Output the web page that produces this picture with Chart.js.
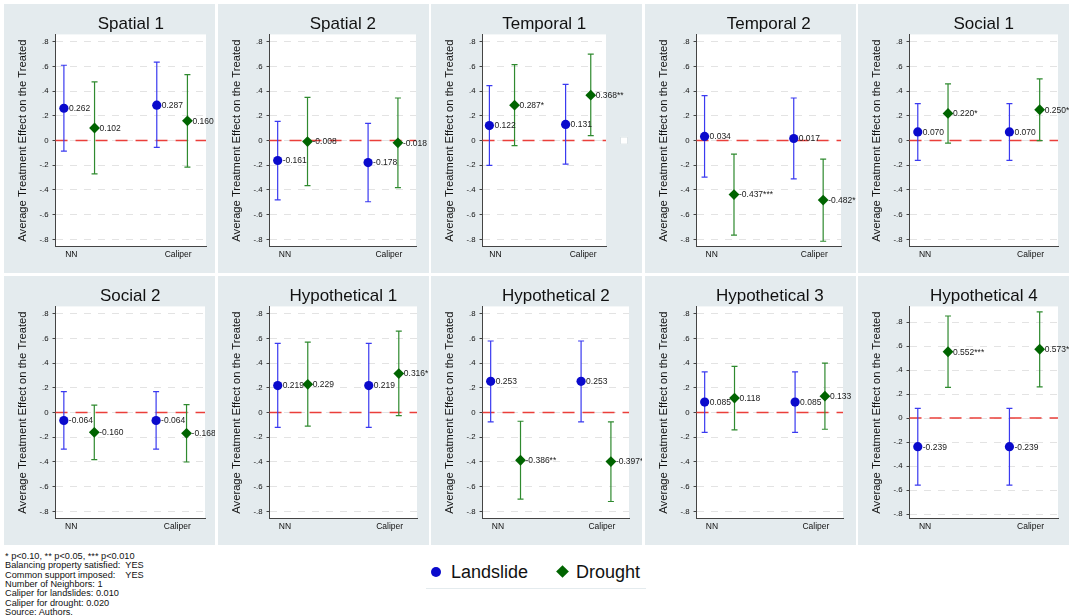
<!DOCTYPE html>
<html>
<head>
<meta charset="utf-8">
<script src="https://cdn.jsdelivr.net/npm/chart.js@4.4.1/dist/chart.umd.min.js"></script>
<style>
  html, body { margin: 0; padding: 0; background: #fff; }
  body { width: 1072px; height: 616px; position: relative; overflow: hidden;
         font-family: 'Liberation Sans', Arial, sans-serif; }
  .panel { position: absolute; background: #e4ebee; }
  .panel canvas { display: block; }
  #legend { position: absolute; left: 426px; top: 558px; width: 220px; height: 30px;
            border-bottom: 1px solid #e4ebee; }
  #legend .item { position: absolute; top: 4px; font-size: 18px; color: #111; }
  #legend .dot { position: absolute; width: 10px; height: 10px; border-radius: 50%; background: #0a0acc; }
  #legend .dia { position: absolute; width: 9px; height: 9px; background: #006400; transform: rotate(45deg); }
  #notes { position: absolute; left: 5px; top: 552px; font-size: 9.2px; line-height: 9.35px; color: #111; white-space: pre; }
</style>
</head>
<body>
<div id="panels"></div>
<div id="legend">
  <div class="dot" style="left:5px; top:9px;"></div>
  <div class="item" style="left:25px;">Landslide</div>
  <div class="dia" style="left:132px; top:9px;"></div>
  <div class="item" style="left:150px;">Drought</div>
</div>
<div id="notes">* p&lt;0.10, ** p&lt;0.05, *** p&lt;0.010
Balancing property satisfied:  YES
Common support imposed:    YES
Number of Neighbors: 1
Caliper for landslides: 0.010
Caliper for drought: 0.020
Source: Authors.</div>
<script>
document.addEventListener('DOMContentLoaded', function () {
  // Panels and x categories
  const panelTitles = ['Spatial 1', 'Spatial 2', 'Temporal 1', 'Temporal 2', 'Social 1',
    'Social 2', 'Hypothetical 1', 'Hypothetical 2', 'Hypothetical 3', 'Hypothetical 4'];
  const methods = ['NN', 'Caliper'];
  const yTickValues = [-0.8, -0.6, -0.4, -0.2, 0, 0.2, 0.4, 0.6, 0.8];

  // Landslide estimates [NN, Caliper] with CI bounds
  const landslideEst = [[0.262, 0.287], [-0.161, -0.178], [0.122, 0.131], [0.034, 0.017], [0.070, 0.070],
    [-0.064, -0.064], [0.219, 0.219], [0.253, 0.253], [0.085, 0.085], [-0.239, -0.239]];
  const landslideLo = [[-0.085, -0.055], [-0.48, -0.495], [-0.20, -0.19], [-0.295, -0.31], [-0.16, -0.16],
    [-0.295, -0.295], [-0.12, -0.12], [-0.075, -0.075], [-0.16, -0.16], [-0.56, -0.56]];
  const landslideHi = [[0.61, 0.635], [0.155, 0.14], [0.445, 0.455], [0.365, 0.345], [0.30, 0.30],
    [0.17, 0.17], [0.56, 0.56], [0.58, 0.58], [0.33, 0.33], [0.08, 0.08]];
  const landslideStars = [['', ''], ['', ''], ['', ''], ['', ''], ['', ''],
    ['', ''], ['', ''], ['', ''], ['', ''], ['', '']];

  // Drought estimates [NN, Caliper] with CI bounds
  const droughtEst = [[0.102, 0.160], [-0.008, -0.018], [0.287, 0.368], [-0.437, -0.482], [0.220, 0.250],
    [-0.160, -0.168], [0.229, 0.316], [-0.386, -0.397], [0.118, 0.133], [0.552, 0.573]];
  const droughtLo = [[-0.27, -0.215], [-0.365, -0.38], [-0.04, 0.04], [-0.765, -0.815], [-0.02, 0.0],
    [-0.38, -0.40], [-0.11, -0.025], [-0.70, -0.72], [-0.14, -0.135], [0.255, 0.26]];
  const droughtHi = [[0.475, 0.535], [0.35, 0.345], [0.615, 0.70], [-0.11, -0.15], [0.46, 0.50],
    [0.06, 0.065], [0.57, 0.66], [-0.07, -0.075], [0.375, 0.40], [0.85, 0.885]];
  const droughtStars = [['', ''], ['', ''], ['*', '**'], ['***', '*'], ['*', '*'],
    ['', ''], ['', '*'], ['**', '*'], ['', ''], ['***', '***']];

  // axis ranges per panel
  const yMin = [-0.86, -0.86, -0.86, -0.86, -0.86, -0.86, -0.86, -0.86, -0.86, -0.84];
  const yMax = [0.86, 0.86, 0.86, 0.86, 0.86, 0.86, 0.86, 0.86, 0.86, 0.93];

  const blueMarker = '#0a0acc', blueBar = '#3a3af0';
  const greenMarker = '#006400', greenBar = '#2f8a2f';
  const FONT = "'Liberation Sans', Arial, sans-serif";
  Chart.defaults.font.family = FONT;

  // layout: right padding (Temporal 1 keeps room for an empty key box)
  const rightPad = [9, 13, 36, 15, 11, 10, 12, 13, 13, 11];

  function fmtTick(v) {
    const r = Math.round(v * 10) / 10;
    if (r === 0) return '0';
    return (r < 0 ? '-' : '') + Math.abs(r).toFixed(1).replace(/^0/, '');
  }

  const plotPlugin = {
    id: 'plotPlugin',
    beforeDraw(chart) {
      const { ctx, chartArea: a } = chart;
      ctx.save();
      ctx.fillStyle = '#fff';
      ctx.fillRect(a.left, a.top, a.right - a.left, a.bottom - a.top);
      ctx.restore();
    },
    beforeDatasetsDraw(chart) {
      const { ctx, chartArea: a, scales } = chart;
      const y0 = scales.y.getPixelForValue(0);
      ctx.save();
      ctx.strokeStyle = '#ea3f3a';
      ctx.lineWidth = 1.5;
      ctx.setLineDash([12, 8]);
      ctx.beginPath();
      ctx.moveTo(a.left, y0);
      ctx.lineTo(a.right, y0);
      ctx.stroke();
      ctx.setLineDash([]);
      // error bars
      chart.data.datasets.forEach(ds => {
        ctx.strokeStyle = ds.barColor;
        ctx.lineWidth = 1.2;
        ds.data.forEach((p, i) => {
          const x = scales.x.getPixelForValue(p.x);
          const yl = scales.y.getPixelForValue(ds.lo[i]);
          const yh = scales.y.getPixelForValue(ds.hi[i]);
          ctx.beginPath();
          ctx.moveTo(x, yl); ctx.lineTo(x, yh);
          ctx.moveTo(x - 3, yl); ctx.lineTo(x + 3, yl);
          ctx.moveTo(x - 3, yh); ctx.lineTo(x + 3, yh);
          ctx.stroke();
        });
      });
      ctx.restore();
    },
    afterDatasetsDraw(chart) {
      const { ctx, scales } = chart;
      ctx.save();
      ctx.font = '8.5px ' + FONT;
      ctx.fillStyle = '#1a1a1a';
      ctx.textBaseline = 'middle';
      chart.data.datasets.forEach(ds => {
        ds.data.forEach((p, i) => {
          const x = scales.x.getPixelForValue(p.x);
          const y = scales.y.getPixelForValue(p.y);
          ctx.fillText(ds.valueLabels[i], x + 5, y + 0.5);
        });
      });
      if (chart.options.emptyKey) {
        const a = chart.chartArea;
        const y0 = scales.y.getPixelForValue(0);
        ctx.fillStyle = '#fff';
        ctx.strokeStyle = '#dde4e7';
        ctx.fillRect(a.right + 14, y0 - 4, 8, 8);
        ctx.strokeRect(a.right + 14.5, y0 - 3.5, 7, 7);
      }
      ctx.restore();
    }
  };

  const container = document.getElementById('panels');
  panelTitles.forEach((title, p) => {
    const row = Math.floor(p / 5), col = p % 5;
    const div = document.createElement('div');
    div.className = 'panel';
    div.style.left = (4 + col * 213.5) + 'px';
    div.style.top = (4 + row * 272) + 'px';
    div.style.width = '211px';
    div.style.height = '269px';
    const canvas = document.createElement('canvas');
    div.appendChild(canvas);
    container.appendChild(div);

    const mkLabels = (est, stars) => est[p].map((v, i) => v.toFixed(3) + stars[p][i]);

    new Chart(canvas.getContext('2d'), {
      type: 'scatter',
      data: {
        datasets: [
          {
            label: 'Landslide',
            data: methods.map((m, i) => ({ x: i + 1, y: landslideEst[p][i] })),
            lo: landslideLo[p], hi: landslideHi[p],
            valueLabels: mkLabels(landslideEst, landslideStars),
            barColor: blueBar,
            pointStyle: 'circle', pointRadius: 4.6,
            backgroundColor: blueMarker, borderColor: blueMarker, borderWidth: 0
          },
          {
            label: 'Drought',
            data: methods.map((m, i) => ({ x: i + 1.33, y: droughtEst[p][i] })),
            lo: droughtLo[p], hi: droughtHi[p],
            valueLabels: mkLabels(droughtEst, droughtStars),
            barColor: greenBar,
            pointStyle: 'rectRot', pointRadius: 5.4,
            backgroundColor: greenMarker, borderColor: greenMarker, borderWidth: 0
          }
        ]
      },
      options: {
        responsive: true,
        maintainAspectRatio: false,
        animation: false,
        emptyKey: title === 'Temporal 1',
        layout: { padding: { left: 12, right: rightPad[p], top: 1, bottom: 10 } },
        plugins: {
          legend: { display: false },
          tooltip: { enabled: false },
          title: {
            display: true, text: title, fullSize: false, color: '#111',
            font: { size: 17, weight: 'normal' }, padding: { top: 9, bottom: 0 }
          }
        },
        scales: {
          x: {
            type: 'linear', min: 0.91, max: 2.53,
            afterBuildTicks: s => { s.ticks = [{ value: 1.08 }, { value: 2.23 }]; },
            ticks: { callback: (v, i) => methods[i], color: '#111', font: { size: 8.5 }, padding: 3, maxRotation: 0 },
            grid: { display: false, drawTicks: false },
            border: { color: '#444', width: 1 }
          },
          y: {
            min: yMin[p], max: yMax[p],
            afterBuildTicks: s => { s.ticks = yTickValues.map(v => ({ value: v })); },
            ticks: { callback: v => fmtTick(v), color: '#111', font: { size: 7.8 }, padding: 4 },
            grid: { color: '#e3e3e3', lineWidth: 1, tickColor: '#444', tickLength: 3 },
            border: { color: '#444', width: 1, dash: [7, 7] },
            title: {
              display: true, text: 'Average Treatment Effect on the Treated',
              color: '#111', font: { size: 11.2 }, padding: { top: 0, bottom: 6 }
            }
          }
        }
      },
      plugins: [plotPlugin]
    });
  });
});
</script>
</body>
</html>
